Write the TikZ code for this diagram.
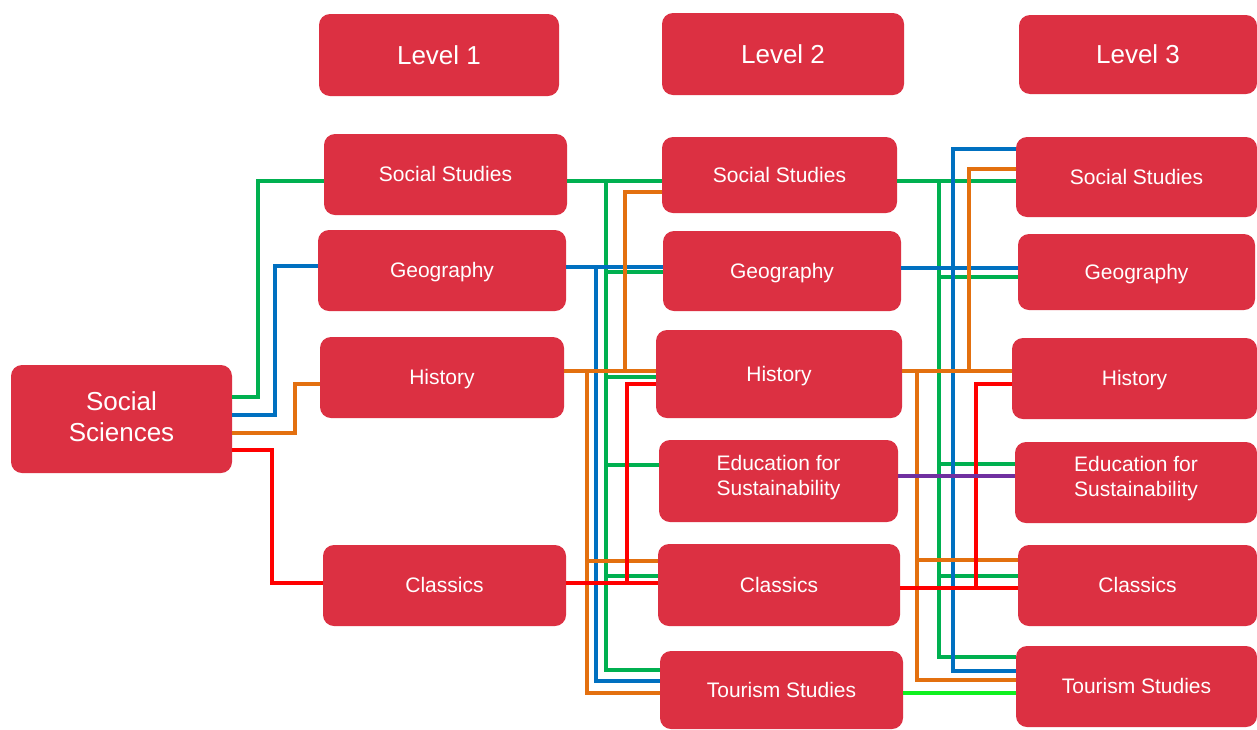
\documentclass[tikz,border=0pt]{standalone}
\usepackage{fontspec}
\setmainfont{Liberation Sans}
\definecolor{boxred}{HTML}{DC3042}
\definecolor{lgreen}{HTML}{00B050}
\definecolor{lblue}{HTML}{0070C0}
\definecolor{lorange}{HTML}{E3700F}
\definecolor{lred}{HTML}{FF0000}
\definecolor{lpurple}{HTML}{7030A0}
\definecolor{llime}{HTML}{10F020}
\begin{document}
\begin{tikzpicture}[x=1pt,y=-1pt,
  box/.style={fill=boxred, draw=none, rounded corners=11pt, text=white, align=center, inner sep=0pt,
    text height=18.9pt, text depth=4pt,
    font=\fontsize{21}{25}\selectfont},
  head/.style={box, text height=23.4pt, text depth=4.9pt, font=\fontsize{26}{31}\selectfont},
  multi/.style={text height={}, text depth={}},
  conn/.style={line width=3.5pt},
  gr/.style={conn, draw=lgreen},
  bl/.style={conn, draw=lblue},
  org/.style={conn, draw=lorange},
  rd/.style={conn, draw=lred},
  pu/.style={conn, draw=lpurple},
  li/.style={conn, draw=llime}]
\useasboundingbox (0,0) rectangle (1257,729);
\fill[white] (0,0) rectangle (1257,729);

% headers
\node[head, minimum width=240pt, minimum height=82pt] (lv1) at (439,55) {Level 1};
\node[head, minimum width=242pt, minimum height=82pt] (lv2) at (783,54) {Level 2};
\node[head, minimum width=238pt, minimum height=79pt] (lv3) at (1138,54.5) {Level 3};

% root
\node[head, multi, minimum width=221pt, minimum height=108pt] (sci) at (121.5,419) {Social\\Sciences\rule[-4pt]{0pt}{0pt}};

% level 1
\node[box, minimum width=243pt, minimum height=81pt] (ss1) at (445.5,174.5) {Social Studies};
\node[box, minimum width=248pt, minimum height=81pt] (geo1) at (442,270.5) {Geography};
\node[box, minimum width=244pt, minimum height=81pt] (his1) at (442,377.5) {History};
\node[box, minimum width=243pt, minimum height=81pt] (cla1) at (444.5,585.5) {Classics};

% level 2
\node[box, minimum width=235pt, minimum height=76pt] (ss2) at (779.5,175) {Social Studies};
\node[box, minimum width=238pt, minimum height=80pt] (geo2) at (782,271) {Geography};
\node[box, minimum width=246pt, minimum height=88pt] (his2) at (779,374) {History};
\node[box, multi, minimum width=239pt, minimum height=82pt] (edu2) at (778.5,481) {Education for\\Sustainability\rule[-12pt]{0pt}{0pt}};
\node[box, minimum width=242pt, minimum height=82pt] (cla2) at (779,585) {Classics};
\node[box, minimum width=243pt, minimum height=78pt] (tou2) at (781.5,690) {Tourism Studies};

% level 3
\node[box, minimum width=241pt, minimum height=80pt] (ss3) at (1136.5,177) {Social Studies};
\node[box, minimum width=237pt, minimum height=76pt] (geo3) at (1136.5,272) {Geography};
\node[box, minimum width=245pt, minimum height=81pt] (his3) at (1134.5,378.5) {History};
\node[box, multi, minimum width=242pt, minimum height=81pt] (edu3) at (1136,482.5) {Education for\\Sustainability\rule[-12pt]{0pt}{0pt}};
\node[box, minimum width=239pt, minimum height=81pt] (cla3) at (1137.5,585.5) {Classics};
\node[box, minimum width=241pt, minimum height=81pt] (tou3) at (1136.5,686.5) {Tourism Studies};

% root -> level 1
\draw[gr] (sci.east |- 0,397) -- (258,397) |- (ss1.west |- 0,181);
\draw[bl] (sci.east |- 0,415) -- (275,415) |- (geo1.west |- 0,266);
\draw[org] (sci.east |- 0,433) -- (295,433) |- (his1.west |- 0,384);
\draw[rd] (sci.east |- 0,450) -- (272,450) |- (cla1.west |- 0,583);

% level 1 -> level 2
\draw[gr] (ss1.east |- 0,181) -- (ss2.west |- 0,181);
\draw[gr] (606,181) |- (tou2.west |- 0,670);
\draw[gr] (606,272) -- (geo2.west |- 0,272);
\draw[gr] (606,377) -- (his2.west |- 0,377);
\draw[gr] (606,465) -- (edu2.west |- 0,465);
\draw[gr] (606,576) -- (cla2.west |- 0,576);

\draw[bl] (geo1.east |- 0,267) -- (geo2.west |- 0,267);
\draw[bl] (596,267) |- (tou2.west |- 0,681);

\draw[org] (his1.east |- 0,371) -- (his2.west |- 0,371);
\draw[org] (625,371) |- (ss2.west |- 0,192);
\draw[org] (587,371) |- (cla2.west |- 0,561);
\draw[org] (587,561) |- (tou2.west |- 0,693);

\draw[rd] (cla1.east |- 0,583) -- (cla2.west |- 0,583);
\draw[rd] (627,583) |- (his2.west |- 0,384);

% level 2 -> level 3
\draw[gr] (ss2.east |- 0,181) -- (ss3.west |- 0,181);
\draw[gr] (939,181) |- (tou3.west |- 0,657);
\draw[gr] (939,277) -- (geo3.west |- 0,277);
\draw[gr] (939,464) -- (edu3.west |- 0,464);
\draw[gr] (939,576) -- (cla3.west |- 0,576);

\draw[bl] (geo2.east |- 0,268) -- (geo3.west |- 0,268);
\draw[bl] (ss3.west |- 0,149) -- (953,149) |- (tou3.west |- 0,671);

\draw[org] (his2.east |- 0,371) -- (his3.west |- 0,371);
\draw[org] (969,371) |- (ss3.west |- 0,169);
\draw[org] (917,371) |- (cla3.west |- 0,560);
\draw[org] (917,560) |- (tou3.west |- 0,680);

\draw[rd] (cla2.east |- 0,588) -- (cla3.west |- 0,588);
\draw[rd] (976,588) |- (his3.west |- 0,384);

\draw[pu] (edu2.east |- 0,476) -- (edu3.west |- 0,476);
\draw[li] (tou2.east |- 0,693) -- (tou3.west |- 0,693);
\end{tikzpicture}
\end{document}
